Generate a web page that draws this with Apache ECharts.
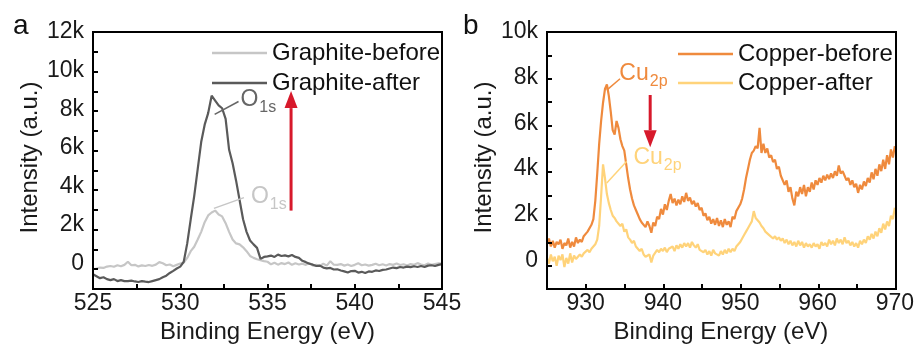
<!DOCTYPE html>
<html><head><meta charset="utf-8">
<script src="https://cdn.jsdelivr.net/npm/echarts@6/dist/echarts.min.js"></script>
<style>html,body{margin:0;padding:0;background:#fff}
#wrap{position:relative;width:917px;height:349px}
#c,#f{position:absolute;left:0;top:0;width:917px;height:349px}
#f{pointer-events:none}</style>
</head><body><div id="wrap"><div id="c"></div><div id="f"></div></div>
<script>
// ---------- DATA ----------
const graphiteStart = 525, graphiteStep = 0.2;
const graphiteBefore = [
  -290,-250,-200,-220,-150,-120,-160,-80,-130,-60,
  100,-80,-60,-140,-90,-120,-70,-110,-50,80,
  20,-80,-40,-130,-60,10,50,300,650,880,
  1250,1650,2150,2500,2650,2750,2550,2450,2100,1650,
  1250,1050,1000,850,650,400,300,230,180,130,
  100,-30,50,-50,30,-20,60,-60,20,-40,
  0,-60,40,-100,-60,-120,0,-100,130,-50,
  -60,-20,-100,-40,-120,-60,20,-80,-40,-100,
  -60,0,-80,-30,-90,-20,-60,10,-70,-30,
  -90,-20,-60,30,-40,-80,10,-60,-20,20,
  0
];
const graphiteAfter = [
  -550,-650,-750,-700,-800,-850,-800,-900,-850,-900,
  -900,-880,-920,-950,-900,-930,-950,-900,-850,-800,
  -700,-620,-480,-370,-250,-150,100,1050,2300,3500,
  4900,6300,7200,7800,8700,8450,8200,8050,7500,5900,
  5200,4300,3300,2300,1650,1200,1000,820,250,350,
  380,420,350,470,400,430,380,450,350,300,
  150,80,0,-50,-120,-100,-200,-240,-220,-300,
  -290,-350,-400,-460,-380,-370,-460,-420,-480,-400,
  -420,-350,-380,-320,-300,-250,-200,-230,-170,-200,
  -150,-180,-130,-170,-120,-170,-100,-80,-120,-60,
  -20
];
const copperStart = 925, copperStep = 0.25;
const copperBefore = [
  700,950,600,850,550,800,700,900,
  500,750,650,950,550,800,600,1000,
  750,900,800,1050,1000,1250,1300,1550,
  1800,2600,3800,5100,6100,6900,7500,7700,
  7200,6500,5700,5500,6100,5800,5300,5000,
  4800,4200,3600,3100,2700,2400,2200,2000,
  1800,1650,1700,1450,1700,1500,1200,1650,
  1500,1900,1800,2250,2000,2450,2200,2600,
  2900,2500,2700,2400,2650,2450,2800,2550,
  2950,2600,2750,2450,2600,2350,2500,2200,
  2300,1950,2050,1750,1900,1600,1800,1550,
  1850,1500,1750,1450,1800,1550,1700,1450,
  1900,1800,2150,2100,2450,2700,3100,3600,
  4000,4400,4700,4800,5000,4900,5800,4700,
  5100,4700,4900,4500,4600,4300,4400,4000,
  4100,3700,3700,3300,3500,3000,3200,2700,
  2400,3000,2800,3200,2900,3300,2800,3200,
  3000,3400,3100,3500,3300,3600,3400,3700,
  3500,3750,3550,3800,3600,3900,3700,4150,
  3800,3900,3700,3500,3600,3300,3500,3200,
  3350,2950,3300,3100,3450,3250,3600,3400,
  3850,3550,4000,3700,4200,3900,4400,4000,
  4600,4200,4850,4500,5000
];
const copperAfter = [
  100,-150,250,-50,150,-250,200,0,
  250,-300,100,-150,300,-100,200,50,
  100,250,150,300,250,450,350,500,
  550,700,900,1500,2800,4200,3600,2900,
  2500,2200,1950,1850,1700,1750,1500,1600,
  1250,1350,1000,900,750,850,600,650,
  400,500,250,150,100,250,-100,200,
  250,450,350,500,400,550,350,500,
  450,600,400,650,500,700,550,750,
  600,750,550,800,650,550,700,450,
  500,350,450,250,400,200,450,300,
  350,200,400,250,450,300,500,350,
  500,400,600,650,800,950,1100,1250,
  1400,1550,1700,2150,1850,1750,1650,1500,
  1400,1250,1300,1100,1150,950,1050,900,
  1000,850,950,750,900,700,850,650,
  800,600,850,650,800,550,750,600,
  700,550,750,600,700,500,800,650,
  750,600,900,700,850,650,950,750,
  900,700,1000,750,850,650,800,600,
  750,550,850,700,900,750,1050,900,
  1150,950,1250,1050,1400,1200,1600,1350,
  1700,1500,1950,1800,2300
];
const graphiteNames = ['Graphite-before', 'Graphite-after'];
const copperNames = ['Copper-before', 'Copper-after'];
const xRangeA = [525, 545], yRangeA = [-1000, 12000];
const xRangeB = [925, 970], yRangeB = [-1000, 10000];
const xTicksA = [525, 530, 535, 540, 545];
const xTicksB = [930, 940, 950, 960, 970];
const yTicksA = [0, 2000, 4000, 6000, 8000, 10000, 12000];
const yTicksB = [0, 2000, 4000, 6000, 8000, 10000];

// ---------- LAYOUT ----------
const FONT = '"Liberation Sans", Arial, sans-serif';
const C = { gb: '#c6c6c6', ga: '#5a5a5a', cb: '#ef8a3d', ca: '#ffd37a', red: '#d7192b' };
const GRIDS = [
  { left: 93, top: 32, width: 349, height: 257 },
  { left: 547, top: 32, width: 349, height: 257 }
];

function pairs(start, step, vals) {
  return vals.map((v, i) => [Math.round((start + i * step) * 100) / 100, v]);
}
function kfmt(ticks) {
  return v => ticks.indexOf(v) >= 0 ? (v === 0 ? '0' : (v / 1000) + 'k') : '';
}
function xfmt(ticks) {
  return v => ticks.indexOf(v) >= 0 ? String(v) : '';
}
function xAxis(idx, range, interval, ticks) {
  return {
    type: 'value', gridIndex: idx, min: range[0], max: range[1], interval, position: 'bottom',
    axisLine: { show: false, onZero: false }, axisTick: { show: false },
    axisLabel: { formatter: xfmt(ticks), fontSize: 23, fontFamily: FONT, color: '#1a1a1a', margin: 9 },
    splitLine: { show: false },
    name: 'Binding Energy (eV)', nameLocation: 'middle', nameGap: 37,
    nameTextStyle: { fontSize: 24, fontFamily: FONT, color: '#1a1a1a' }
  };
}
function yAxis(idx, range, ticks) {
  return {
    type: 'value', gridIndex: idx, min: range[0], max: range[1], interval: 1000, position: 'left',
    axisLine: { show: false, onZero: false }, axisTick: { show: false },
    axisLabel: { formatter: kfmt(ticks), fontSize: 23, fontFamily: FONT, color: '#1a1a1a', margin: 9 },
    splitLine: { show: false },
    name: 'Intensity (a.u.)', nameLocation: 'middle', nameGap: 51, nameRotate: 90,
    nameTextStyle: { fontSize: 24, fontFamily: FONT, color: '#1a1a1a' }
  };
}
function line(name, color, xi, data) {
  return {
    name, type: 'line', xAxisIndex: xi, yAxisIndex: xi, data,
    symbol: 'none', showSymbol: false, color,
    lineStyle: { color, width: 2.2 }, itemStyle: { color }, silent: true, z: 3
  };
}
function legend(names, left, top, gap) {
  return {
    data: names, orient: 'vertical', left, top, itemWidth: 55, itemHeight: 2.5, itemGap: gap,
    icon: 'rect',
    textStyle: { fontSize: 24, fontFamily: FONT, color: '#111', lineHeight: 24 },
    selectedMode: false
  };
}

// ---------- MAIN CHART ----------
const chart = echarts.init(document.getElementById('c'), null, { renderer: 'canvas' });
chart.setOption({
  animation: false,
  grid: GRIDS.map(g => Object.assign({}, g)),
  title: [
    { text: 'a', left: 8, top: 7, textStyle: { fontSize: 28, fontWeight: 'normal', fontFamily: FONT, color: '#111' } },
    { text: 'b', left: 458, top: 7, textStyle: { fontSize: 28, fontWeight: 'normal', fontFamily: FONT, color: '#111' } }
  ],
  legend: [legend(graphiteNames, 207, 36, 6), legend(copperNames, 673, 37, 5)],
  xAxis: [xAxis(0, xRangeA, 2.5, xTicksA), xAxis(1, xRangeB, 5, xTicksB)],
  yAxis: [yAxis(0, yRangeA, yTicksA), yAxis(1, yRangeB, yTicksB)],
  series: [
    line(graphiteNames[0], C.gb, 0, pairs(graphiteStart, graphiteStep, graphiteBefore)),
    line(graphiteNames[1], C.ga, 0, pairs(graphiteStart, graphiteStep, graphiteAfter)),
    line(copperNames[0], C.cb, 1, pairs(copperStart, copperStep, copperBefore)),
    line(copperNames[1], C.ca, 1, pairs(copperStart, copperStep, copperAfter))
  ]
});

// ---------- FRAME + TICKS (overlay chart, same grids and scales) ----------
function frameX(idx, range, interval) {
  return { type: 'value', gridIndex: idx, min: range[0], max: range[1], interval,
    axisLine: { show: false, onZero: false },
    axisTick: { show: true, inside: true, length: 5, lineStyle: { color: '#000', width: 2 } },
    axisLabel: { show: false }, splitLine: { show: false } };
}
function frameY(idx, range) {
  return { type: 'value', gridIndex: idx, min: range[0], max: range[1], interval: 1000,
    axisLine: { show: false, onZero: false },
    axisTick: { show: true, inside: true, length: 5, lineStyle: { color: '#000', width: 2 } },
    axisLabel: { show: false }, splitLine: { show: false } };
}
const overlay = echarts.init(document.getElementById('f'));
overlay.setOption({
  animation: false,
  grid: GRIDS.map(g => Object.assign({ show: true, borderColor: '#000', borderWidth: 2, backgroundColor: 'transparent' }, g)),
  xAxis: [frameX(0, xRangeA, 2.5), frameX(1, xRangeB, 5)],
  yAxis: [frameY(0, yRangeA), frameY(1, yRangeB)],
  series: []
});

// ---------- ANNOTATIONS (anchored in data coordinates) ----------
const labels = [
  { g: 0, main: 'O', sub: '1s', color: '#666', at: [533.45, 8520], from: [531.97, 7730], to: [533.34, 8400] },
  { g: 0, main: 'O', sub: '1s', color: '#c6c6c6', at: [534.05, 3460], from: [531.93, 2865], to: [533.65, 3420] },
  { g: 1, main: 'Cu', sub: '2p', color: '#ef8a3d', at: [934.36, 8170], from: [932.73, 7450], to: [934.45, 7950] },
  { g: 1, main: 'Cu', sub: '2p', color: '#ffd37a', at: [936.18, 4480], from: [932.73, 3380], to: [935.32, 4340] }
];
const arrows = [
  { g: 0, from: [536.35, 2750], to: [536.35, 8940] },
  { g: 1, from: [938.35, 7240], to: [938.35, 4950] }
];
const measure = document.createElement('canvas').getContext('2d');
measure.font = '23px "Liberation Sans"';
const px = (g, p) => chart.convertToPixel({ gridIndex: g }, p);
const gfx = [];
labels.forEach(l => {
  const a = px(l.g, l.at), f = px(l.g, l.from), t = px(l.g, l.to);
  const w = measure.measureText(l.main).width;
  gfx.push({ type: 'line', shape: { x1: f[0], y1: f[1], x2: t[0], y2: t[1] }, style: { stroke: l.color, lineWidth: 1.5 }, z: 100 });
  gfx.push({ type: 'text', x: a[0], y: a[1], style: { text: l.main, fontSize: 23, fontFamily: FONT, fill: l.color, align: 'left', verticalAlign: 'middle' }, z: 100 });
  gfx.push({ type: 'text', x: a[0] + w + 1, y: a[1] + 8, style: { text: l.sub, fontSize: 16, fontFamily: FONT, fill: l.color, align: 'left', verticalAlign: 'middle' }, z: 100 });
});
arrows.forEach(ar => {
  const f = px(ar.g, ar.from), t = px(ar.g, ar.to);
  const dir = t[1] < f[1] ? 1 : -1;
  const headLen = 17, headHalf = 6.5;
  const baseY = t[1] + dir * headLen;
  gfx.push({ type: 'line', shape: { x1: f[0], y1: f[1], x2: t[0], y2: baseY }, style: { stroke: C.red, lineWidth: 3 }, z: 100 });
  gfx.push({ type: 'polygon', shape: { points: [[t[0], t[1]], [t[0] - headHalf, baseY], [t[0] + headHalf, baseY]] }, style: { fill: C.red }, z: 100 });
});
chart.setOption({ graphic: gfx });
</script>
</body></html>
